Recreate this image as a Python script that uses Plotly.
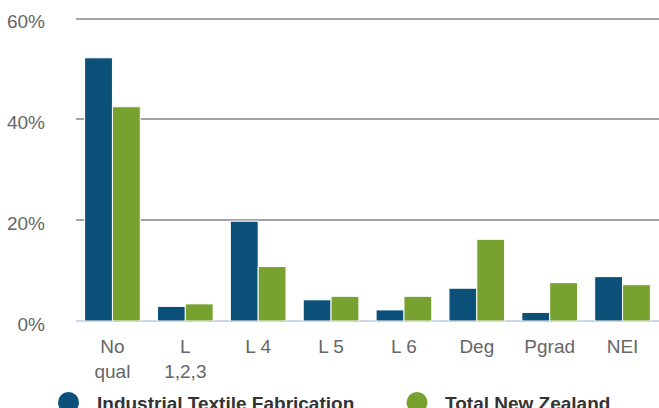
import plotly.graph_objects as go

categories = ["No<br>qual", "L<br>1,2,3", "L 4", "L 5", "L 6", "Deg", "Pgrad", "NEI"]
industry_values = [52.2, 2.9, 19.8, 4.2, 2.2, 6.5, 1.7, 8.8]
nz_values = [42.5, 3.4, 10.8, 4.9, 4.9, 16.2, 7.6, 7.2]
series_names = ["Industrial Textile Fabrication", "Total New Zealand"]
series_colors = ["#0b5078", "#78a22f"]
y_tick_values = [0, 20, 40, 60]
y_tick_labels = ["0%", "20%", "40%", "60%"]

W, H = 659, 408
ML, MR, MT, MB = 76, 0, 17, 87
plot_w = W - ML - MR
plot_h = H - MT - MB

fig = go.Figure()
for name, vals, col in zip(series_names, [industry_values, nz_values], series_colors):
    fig.add_trace(go.Bar(
        x=categories, y=vals, name=name,
        marker=dict(color=col, line=dict(color="#ffffff", width=1)),
        showlegend=False,
    ))

def px_to_paper_x(px):
    return (px - ML) / plot_w

def px_to_paper_y(py):
    return (H - MB - py) / plot_h

legend_items = [(68.5, 95), (417, 443)]
for (cx, tx), name, col in zip(legend_items, series_names, series_colors):
    fig.add_shape(type="circle", xref="paper", yref="paper",
                  xsizemode="pixel", ysizemode="pixel",
                  xanchor=px_to_paper_x(cx), yanchor=px_to_paper_y(402.5),
                  x0=-10.5, x1=10.5, y0=-10.5, y1=10.5,
                  fillcolor=col, line=dict(width=0))
    fig.add_annotation(text="<b>" + name + "</b>", xref="paper", yref="paper",
                       x=px_to_paper_x(tx), y=px_to_paper_y(403),
                       xanchor="left", yanchor="middle", showarrow=False,
                       font=dict(family="Liberation Sans, Arial, sans-serif", size=19, color="#333333"))

fig.update_layout(
    width=W, height=H,
    margin=dict(l=ML, r=MR, t=MT, b=MB, autoexpand=False),
    paper_bgcolor="#ffffff", plot_bgcolor="#ffffff",
    barmode="group", bargap=0.236, bargroupgap=0,
    font=dict(family="Liberation Sans, Arial, sans-serif", size=19, color="#666666"),
)
fig.update_xaxes(showgrid=False, showline=False, ticks="", tickfont=dict(size=19, color="#666666"),
                 ticklabelstandoff=12)
fig.update_yaxes(range=[0, 60.3], tickmode="array", tickvals=y_tick_values, ticktext=y_tick_labels,
                 showgrid=True, gridcolor="#a3a3a3", gridwidth=2,
                 zeroline=True, zerolinecolor="#ccd6eb", zerolinewidth=2,
                 showline=False, ticks="", tickfont=dict(size=19, color="#666666"),
                 ticklabelstandoff=30, ticklabelshift=3)

fig.write_html("out.html", config={"displayModeBar": False},
               post_script="document.body.style.margin='0';document.body.style.overflow='hidden';")
